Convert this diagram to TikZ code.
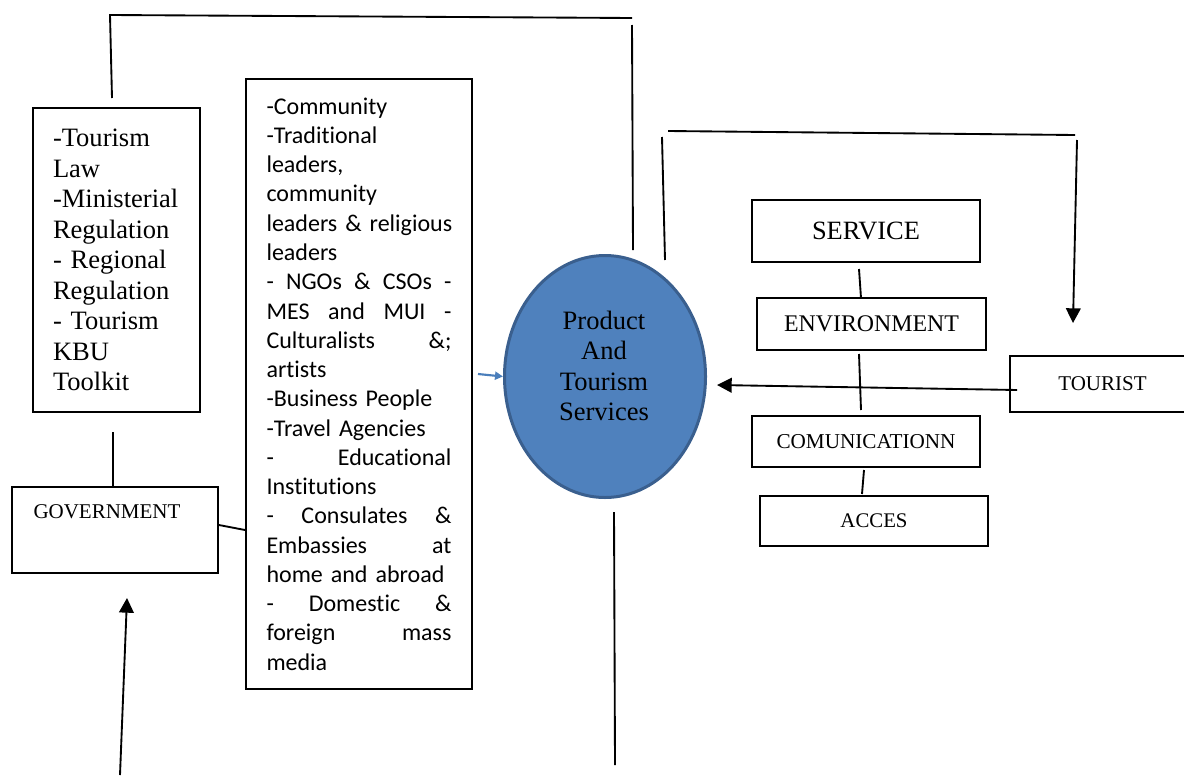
\documentclass[tikz,border=0pt]{standalone}
\usepackage{fontspec}
\setmainfont{Liberation Serif}
\newfontfamily\carlito[Ligatures=NoCommon]{Carlito}
\usetikzlibrary{arrows.meta,shapes.geometric}
\definecolor{ellfill}{HTML}{4F81BD}
\definecolor{elldraw}{HTML}{3A5F8E}
\definecolor{bluearrow}{HTML}{4A7EBB}
\newcommand{\jline}[1]{\leavevmode\hbox to\hsize{#1}}
\begin{document}
\begin{tikzpicture}[x=0.75pt,y=-0.75pt,
  box/.style={draw, line width=1.4pt, rectangle, inner sep=0pt},
  conn/.style={line width=1.4pt},
  arr/.style={conn, -{Triangle[length=11pt,width=11pt]}},
  bluearr/.style={draw=bluearrow, line width=1.6pt, -{Triangle[length=6pt,width=6pt]}},
  times/.style={font=\fontsize{19.9pt}{22.9pt}\selectfont}
]
\useasboundingbox (0,0) rectangle (1184,782);
\clip (0,0) rectangle (1184,782);

% Law box
\node[box, minimum width=167*0.75pt, minimum height=304*0.75pt, text width=127*0.75pt, align=left, times] (law) at (116.5,260)
 {-Tourism\\Law\\-Ministerial\\Regulation\\- Regional\\Regulation\\- Tourism\\KBU\\Toolkit};

% Government box
\node[box, minimum width=206*0.75pt, minimum height=86*0.75pt] (gov) at (115,530) {};
\node[font=\fontsize{15.75pt}{18pt}\selectfont, inner sep=0pt] (govtext) at (107,512) {GOVERNMENT};

% Middle stakeholder box
\node[box, minimum width=226*0.75pt, minimum height=610*0.75pt, text width=185*0.75pt, align=left,
      font=\carlito\fontsize{18pt}{21.95pt}\selectfont] (mid) at (359,384)
 {-Community\\
  -Traditional\\
  leaders,\\
  community\\
  \jline{leaders \& religious\hss}\\
  leaders\\
  \jline{-\hfill NGOs\hfill \&\hfill CSOs\hfill -}\\
  \jline{MES\hfill and\hfill MUI\hfill -}\\
  \jline{Culturalists\hfill \&;}\\
  artists\\
  -Business People\\
  -Travel Agencies\\
  \jline{-\hfill Educational}\\
  Institutions\\
  \jline{-\hfill Consulates\hfill \&}\\
  \jline{Embassies\hfill at}\\
  home and abroad\\
  \jline{-\hfill Domestic\hfill \&}\\
  \jline{foreign\hfill mass}\\
  media};

% Ellipse
\node[ellipse, draw=elldraw, fill=ellfill, line width=2.25pt, minimum width=201*0.75pt, minimum height=242*0.75pt, inner sep=0pt] (ell) at (605,376.5) {};
\node[align=center, times, inner sep=0pt] (elltext) at (604,366) {Product\\And\\Tourism\\Services};

% Right boxes
\node[box, minimum width=228*0.75pt, minimum height=62*0.75pt, font=\fontsize{19.8pt}{22pt}\selectfont] (service) at (866,231) {SERVICE};
\node[box, minimum width=229*0.75pt, minimum height=52*0.75pt, font=\fontsize{17.9pt}{20pt}\selectfont] (env) at (871.5,324) {ENVIRONMENT};
\node[box, minimum width=228*0.75pt, minimum height=51*0.75pt, font=\fontsize{15.9pt}{18pt}\selectfont] (comm) at (866,441.5) {COMUNICATIONN};
\node[box, minimum width=228*0.75pt, minimum height=50*0.75pt, font=\fontsize{15.6pt}{18pt}\selectfont] (acces) at (874,521) {ACCES};
\node[box, minimum width=185*0.75pt, minimum height=56*0.75pt, font=\fontsize{15.75pt}{18pt}\selectfont] (tourist) at (1102.5,384) {TOURIST};

% Coordinates for free ends
\coordinate (lawtop) at (112,98);
\coordinate (tl) at (110,15);
\coordinate (tr) at (632,18);
\coordinate (v1a) at (632,25);
\coordinate (v1b) at (633,250);
\coordinate (v2a) at (662,137);
\coordinate (v2b) at (665,260);
\coordinate (t2l) at (668,131);
\coordinate (t2r) at (1075,135);
\coordinate (d1a) at (1077,140);
\coordinate (d1b) at (1073,323);
\coordinate (lawbot) at (113,432);
\coordinate (upa) at (120,775);
\coordinate (upb) at (127,598);
\coordinate (ebota) at (614,512);
\coordinate (ebotb) at (615,765);
\coordinate (bstart) at (478,374);
\coordinate (tstart) at (1017,390);
\coordinate (tend) at (717,385);
\coordinate (s1) at (859,269);
\coordinate (s2) at (861,298);
\coordinate (e1) at (859,354);
\coordinate (e2) at (861,410);
\coordinate (c1) at (864,470);
\coordinate (c2) at (862,494);

% Connectors
\draw[conn] (lawtop) -- (tl) -- (tr);
\draw[conn] (v1a) -- (v1b);
\draw[conn] (v2a) -- (v2b);
\draw[conn] (t2l) -- (t2r);
\draw[arr] (d1a) -- (d1b);
\draw[conn] (lawbot) -- (lawbot |- gov.north);
\draw[conn] (gov.east |- 0,525) -- (mid.west |- 0,530);
\draw[arr] (upa) -- (upb);
\draw[conn] (ebota) -- (ebotb);
\draw[bluearr] (bstart) -- (ell.west);
\draw[arr] (tstart) -- (tend);
\draw[conn] (s1) -- (s2);
\draw[conn] (e1) -- (e2);
\draw[conn] (c1) -- (c2);
\end{tikzpicture}
\end{document}
